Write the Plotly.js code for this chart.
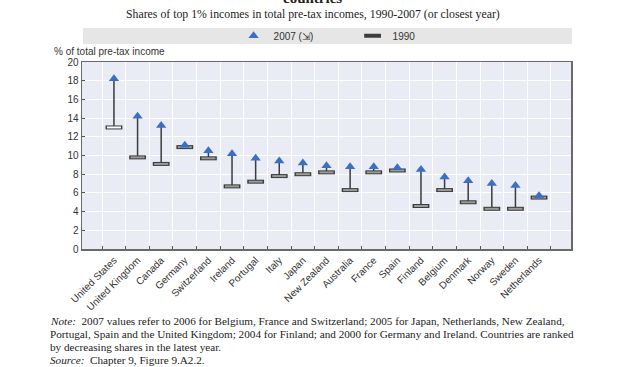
<!DOCTYPE html>
<html>
<head>
<meta charset="utf-8">
<script src="https://cdn.plot.ly/plotly-3.0.1.min.js"></script>
<style>html,body{margin:0;padding:0;background:#fff;}#chart{width:625px;height:367px;}</style>
</head>
<body>
<div id="chart"></div>
<script>
var countries = ["United States","United Kingdom","Canada","Germany","Switzerland","Ireland","Portugal","Italy","Japan","New Zealand","Australia","France","Spain","Finland","Belgium","Denmark","Norway","Sweden","Netherlands"];
var v2007 = [18.2,14.2,13.2,11.1,10.5,10.2,9.7,9.4,9.2,8.9,8.8,8.8,8.7,8.5,7.7,7.3,7.0,6.8,5.7];
var v1990 = [13.0,9.8,9.1,10.9,9.7,6.7,7.2,7.8,8.0,8.2,6.3,8.2,8.4,4.6,6.3,5.0,4.3,4.3,5.5];
var yTicks = [0,2,4,6,8,10,12,14,16,18,20];

var narrow = "Liberation Sans Narrow, Arial Narrow, Liberation Sans, Arial, sans-serif";
var serif = "Liberation Serif, DejaVu Serif, serif";

var gaps = v2007.map(function(v,i){return v - v1990[i];});
var innerColors = countries.map(function(c,i){return i===0 ? "#ffffff" : "#9a9a9a";});

var traces = [
  {
    x: countries, y: v1990, type: "scatter", mode: "markers", name: "1990",
    marker: {symbol: "line-ew", size: 12, line: {width: 4, color: "#3c3c3c"}},
    error_y: {type: "data", symmetric: false, array: gaps, arrayminus: gaps.map(function(){return 0;}), width: 0, thickness: 1.5, color: "#3c3c3c"},
    hoverinfo: "skip"
  },
  {
    x: countries, y: v1990, type: "scatter", mode: "markers", name: "1990 fill", showlegend: false,
    marker: {symbol: "line-ew", size: 10, color: innerColors, line: {width: 2, color: innerColors}},
    hoverinfo: "skip"
  },
  {
    x: countries, y: v2007, type: "scatter", mode: "markers", name: "2007 (\u21F2)",
    marker: {symbol: "triangle-up", size: 9, color: "#3b6fc6", line: {width: 0}},
    hoverinfo: "skip"
  }
];

var layout = {
  width: 625, height: 367,
  margin: {l: 82, r: 54, t: 62, b: 118},
  paper_bgcolor: "#ffffff",
  plot_bgcolor: "#e9ebf5",
  showlegend: true,
  legend: {
    orientation: "h", x: 0.31, xanchor: "left", y: 1.14, yanchor: "middle",
    bgcolor: "rgba(0,0,0,0)", font: {family: narrow, size: 10, color: "#333"},
    entrywidth: 74, traceorder: "reversed"
  },
  xaxis: {
    type: "category", tickangle: -45, tickson: "boundaries",
    ticks: "inside", ticklen: 3, tickcolor: "#555",
    showgrid: true, gridcolor: "#ffffff", gridwidth: 1,
    showline: true, linecolor: "#6a6a6a", linewidth: 1.5, mirror: true,
    tickfont: {family: narrow, size: 10, color: "#333"},
    fixedrange: true
  },
  yaxis: {
    range: [0, 20], tickvals: yTicks, ticktext: yTicks.map(String),
    ticks: "inside", ticklen: 3, tickcolor: "#555",
    showgrid: true, gridcolor: "#ffffff", gridwidth: 1,
    showline: true, linecolor: "#6a6a6a", linewidth: 1.5, mirror: true,
    zeroline: false,
    tickfont: {family: narrow, size: 10, color: "#333"},
    fixedrange: true
  },
  shapes: [
    {type: "rect", xref: "paper", yref: "paper", x0: 0.002, x1: 1.002, y0: 1.096, y1: 1.182,
     fillcolor: "#e6e6e6", line: {width: 0}, layer: "below"}
  ],
  annotations: [
    {text: "<b>countries</b>", xref: "paper", yref: "paper", x: 0.472, y: 1.289, xanchor: "center", yanchor: "bottom",
     showarrow: false, font: {family: serif, size: 15, color: "#222"}},
    {text: "Shares of top 1% incomes in total pre-tax incomes, 1990-2007 (or closest year)", xref: "paper", yref: "paper",
     x: 0.472, y: 1.257, xanchor: "center", yanchor: "middle", showarrow: false,
     font: {family: serif, size: 11.8, color: "#222"}},
    {text: "% of total pre-tax income", xref: "paper", yref: "paper", x: -0.061, y: 1.058, xanchor: "left", yanchor: "middle",
     showarrow: false, font: {family: narrow, size: 10, color: "#333"}},
    {text: "<i>Note:</i>  2007 values refer to 2006 for Belgium, France and Switzerland; 2005 for Japan, Netherlands, New Zealand,",
     xref: "paper", yref: "paper", x: -0.0695, y: -0.385, xanchor: "left", yanchor: "middle", showarrow: false,
     font: {family: serif, size: 11.2, color: "#222"}},
    {text: "Portugal, Spain and the United Kingdom; 2004 for Finland; and 2000 for Germany and Ireland. Countries are ranked",
     xref: "paper", yref: "paper", x: -0.0695, y: -0.455, xanchor: "left", yanchor: "middle", showarrow: false,
     font: {family: serif, size: 11.2, color: "#222"}},
    {text: "by decreasing shares in the latest year.",
     xref: "paper", yref: "paper", x: -0.0695, y: -0.524, xanchor: "left", yanchor: "middle", showarrow: false,
     font: {family: serif, size: 11.2, color: "#222"}},
    {text: "<i>Source:</i>  Chapter 9, Figure 9.A2.2.",
     xref: "paper", yref: "paper", x: -0.0695, y: -0.594, xanchor: "left", yanchor: "middle", showarrow: false,
     font: {family: serif, size: 11.2, color: "#222"}}
  ]
};

Plotly.newPlot("chart", traces, layout, {displayModeBar: false, staticPlot: true});
</script>
</body>
</html>
